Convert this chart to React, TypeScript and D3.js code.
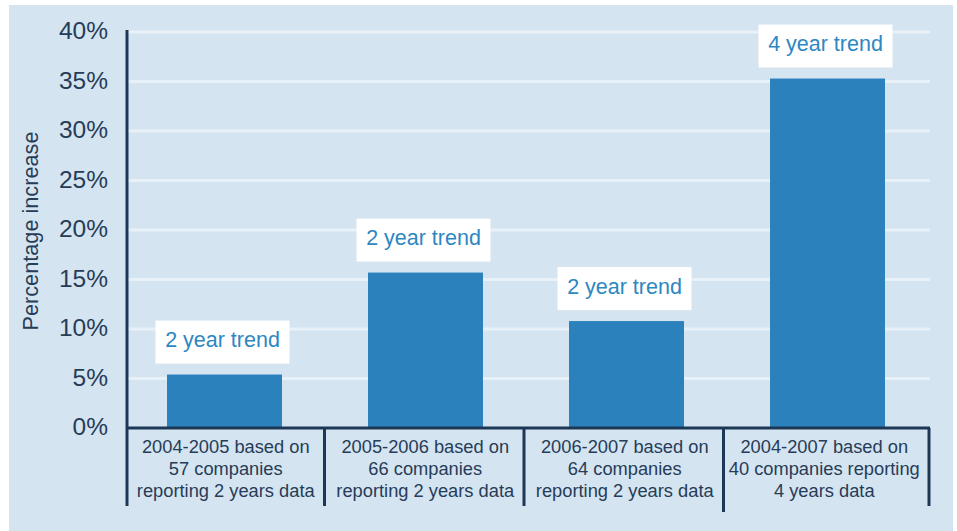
import React from "react";
import * as d3 from "d3";

const categories = ["2004-2005", "2005-2006", "2006-2007", "2004-2007"];
const categoryLines: string[][] = [
  ["2004-2005 based on", "57 companies", "reporting 2 years data"],
  ["2005-2006 based on", "66 companies", "reporting 2 years data"],
  ["2006-2007 based on", "64 companies", "reporting 2 years data"],
  ["2004-2007 based on", "40 companies reporting", "4 years data"],
];
const values = [5.4, 15.7, 10.8, 35.3];
const trendLabels = ["2 year trend", "2 year trend", "2 year trend", "4 year trend"];
const yTicks = [0, 5, 10, 15, 20, 25, 30, 35, 40];

const W = 957;
const H = 531;
const FONT = "'Liberation Sans', Arial, Helvetica, sans-serif";

export default function App() {
  const x0 = 127;
  const x1 = 929;
  const yTop = 32;
  const yBase = 428;
  const x = d3.scaleBand<string>().domain(categories).range([x0, x1]);
  const xBar = d3.scaleBand<string>().domain(categories).range([124, 928]).paddingInner(0.428).paddingOuter(0.214);
  const xText = d3.scaleBand<string>().domain(categories).range([126, 924]);
  const y = d3.scaleLinear().domain([0, 40]).range([yBase, yTop]);
  const axisColor = "#1d3857";
  const textColor = "#263c57";

  return (
    <svg width={W} height={H} style={{ position: "absolute", left: 0, top: 0 }} fontFamily={FONT}>
      <rect x={0} y={0} width={W} height={H} fill="#ffffff" />
      <rect x={9} y={5} width={944} height={526} fill="#d5e4f1" />
      {yTicks.map((t) => (
        <g key={t}>
          {t > 0 && (
            <line x1={x0} x2={x1 + 1} y1={y(t)} y2={y(t)} stroke="#e8f0f8" strokeWidth={3} />
          )}
          <text x={108} y={y(t) - 1.5} dy="0.36em" textAnchor="end" fontSize={24.5} fill={textColor}>
            {t}%
          </text>
        </g>
      ))}
      <text
        transform={`translate(38, 231) rotate(-90)`}
        textAnchor="middle"
        fontSize={21.7}
        fill={textColor}
      >
        Percentage increase
      </text>
      {categories.map((c, i) => {
        const bx = xBar(c) as number;
        const bw = xBar.bandwidth();
        const cx = bx + bw / 2;
        const tx = (xText(c) as number) + xText.bandwidth() / 2;
        const top = y(values[i]);
        return (
          <g key={c}>
            <rect x={bx} y={top} width={bw} height={yBase - top} fill="#2b81bc" />
            <rect x={cx - 69} y={top - 54} width={134} height={43} fill="#ffffff" />
            <text x={cx - 2} y={top - 35} dy="0.36em" textAnchor="middle" fontSize={21.5} fill="#2d87c2">
              {trendLabels[i]}
            </text>
            {categoryLines[i].map((ln, j) => (
              <text key={j} x={tx} y={446 + j * 22} dy="0.36em" textAnchor="middle" fontSize={18.3} fill={textColor}>
                {ln}
              </text>
            ))}
          </g>
        );
      })}
      <line x1={x0} x2={x0} y1={30} y2={506} stroke={axisColor} strokeWidth={3} />
      <line x1={x0} x2={x1 + 1} y1={yBase} y2={yBase} stroke={axisColor} strokeWidth={3} />
      {categories.map((c, i) =>
        i === 0 ? null : (
          <line
            key={c}
            x1={(xText(c) as number) - 1}
            x2={(xText(c) as number) - 1}
            y1={yBase}
            y2={i === 3 ? 512 : 506}
            stroke={axisColor}
            strokeWidth={3}
          />
        )
      )}
      <line x1={x1} x2={x1} y1={yBase} y2={506} stroke={axisColor} strokeWidth={3} />
    </svg>
  );
}
